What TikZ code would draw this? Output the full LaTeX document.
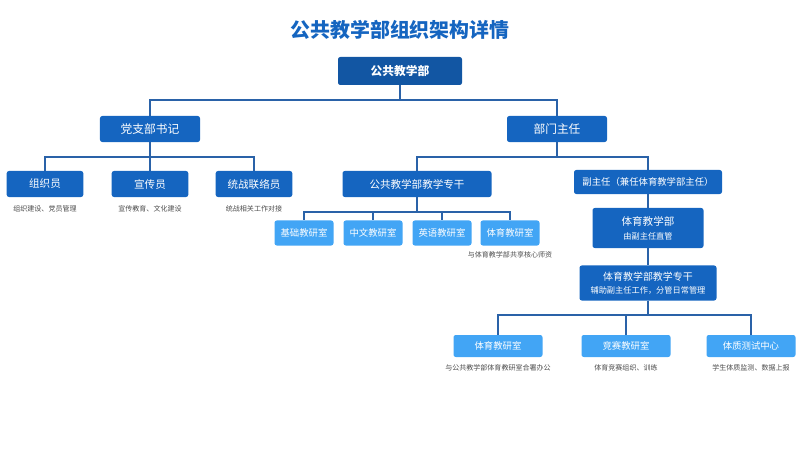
\documentclass[tikz,border=0pt]{standalone}
\usepackage{fontspec}
\setmainfont{Noto Sans CJK SC}
\begin{document}
\definecolor{darkblue}{HTML}{1565C0}
\definecolor{lightblue}{HTML}{42A5F5}
\definecolor{linkblue}{HTML}{2A62A8}
\tikzset{
  box/.style={fill=darkblue,text=white,rounded corners=2pt,inner sep=0pt,font=\fontsize{9}{10}\selectfont},
  subbox/.style={box,fill=lightblue,font=\fontsize{8}{9}\selectfont},
  note/.style={text=black!70,font=\fontsize{6}{7}\selectfont,inner sep=0pt},
  link/.style={draw=linkblue,line width=1pt}
}
\begin{tikzpicture}[x=0.03cm,y=-0.03cm]
  \useasboundingbox (0,0) rectangle (800,450);
  \node[text=darkblue,font=\fontsize{17}{18}\selectfont\bfseries] (title) at (400,30) {公共教学部组织架构详情};

  \node[box,minimum width=124*0.03cm,minimum height=28*0.03cm,font=\fontsize{10}{11}\selectfont\bfseries,fill=darkblue!85!black] (root) at (400,71) {公共教学部};
  \node[box,minimum width=3cm,minimum height=0.78cm,font=\fontsize{10}{11}\selectfont] (dzb) at (150,129) {党支部书记};
  \node[box,minimum width=3cm,minimum height=0.78cm,font=\fontsize{10}{11}\selectfont] (bmzr) at (557,129) {部门主任};

  % party branch
  \node[box,minimum width=2.3cm,minimum height=0.78cm] (zzy) at (45,184) {组织员};
  \node[box,minimum width=2.3cm,minimum height=0.78cm] (xcy) at (150,184) {宣传员};
  \node[box,minimum width=2.3cm,minimum height=0.78cm] (tzy) at (254,184) {统战联络员};
  \node[note,below=7pt] at (zzy.south) {组织建设、党员管理};
  \node[note,below=7pt] at (xcy.south) {宣传教育、文化建设};
  \node[note,below=7pt] at (tzy.south) {统战相关工作对接};

  % director branch
  \node[box,minimum width=149*0.03cm,minimum height=0.78cm] (zg) at (417,184) {公共教学部教学专干};
  \node[box,minimum width=148*0.03cm,minimum height=0.72cm,font=\fontsize{8}{9}\selectfont] (fzr) at (648,182) {副主任（兼任体育教学部主任）};
  \foreach \name/\x/\txt in {jc/304/基础教研室,zw/373/中文教研室,yy/442/英语教研室,ty/510/体育教研室}
    \node[subbox,minimum width=59*0.03cm,minimum height=0.75cm] (\name) at (\x,233) {\txt};
  \node[note,below=5pt] at (ty.south) {与体育教学部共享核心师资};

  \node[box,minimum width=111*0.03cm,minimum height=1.2cm,align=center] (tyb) at (648,228)
    {{\fontsize{9}{10}\selectfont 体育教学部}\\[2pt]{\fontsize{7}{8}\selectfont 由副主任直管}};
  \node[box,minimum width=137*0.03cm,minimum height=1.05cm,align=center] (tyzg) at (648,283)
    {{\fontsize{8.5}{10}\selectfont 体育教学部教学专干}\\[1pt]{\fontsize{7}{8}\selectfont 辅助副主任工作，分管日常管理}};
  \node[subbox,minimum width=89*0.03cm,minimum height=0.66cm] (tyjy) at (498,346) {体育教研室};
  \node[subbox,minimum width=89*0.03cm,minimum height=0.66cm] (js) at (626,346) {竞赛教研室};
  \node[subbox,minimum width=89*0.03cm,minimum height=0.66cm] (tz) at (751,346) {体质测试中心};
  \node[note,below=6pt] at (tyjy.south) {与公共教学部体育教研室合署办公};
  \node[note,below=6pt] at (js.south) {体育竞赛组织、训练};
  \node[note,below=6pt] at (tz.south) {学生体质监测、数据上报};

  % connectors
  \draw[link] (root.south) -- (root.south |- 0,100) -| (dzb.north);
  \draw[link] (root.south |- 0,100) -| (bmzr.north);
  \foreach \n in {zzy,xcy,tzy}
    \draw[link] (dzb.south) -- (dzb.south |- 0,157) -| (\n.north);
  \draw[link] (bmzr.south) -- (bmzr.south |- 0,157) -| (zg.north);
  \draw[link] (bmzr.south |- 0,157) -| (fzr.north);
  \foreach \n in {jc,zw,yy,ty}
    \draw[link] (zg.south) -- (zg.south |- 0,212) -| (\n.north);
  \draw[link] (fzr.south) -- (tyb.north);
  \draw[link] (tyb.south) -- (tyzg.north);
  \foreach \n in {tyjy,js,tz}
    \draw[link] (tyzg.south) -- (tyzg.south |- 0,315) -| (\n.north);
\end{tikzpicture}
\end{document}
